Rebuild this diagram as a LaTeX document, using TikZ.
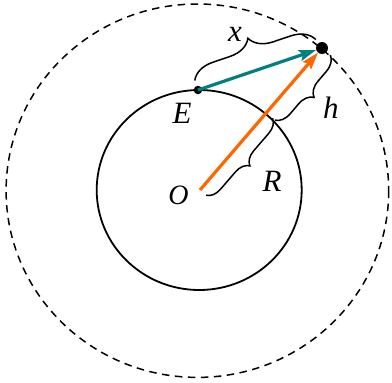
\documentclass[tikz,border=0pt]{standalone}
\usepackage{fontspec}
\setmainfont{Liberation Serif}
\usetikzlibrary{arrows.meta,decorations.pathreplacing,calc}
\definecolor{myteal}{RGB}{0,128,128}
\definecolor{myorange}{RGB}{255,102,0}
\tikzset{
  lbl/.style={inner sep=0pt,font=\fontsize{31}{33}\selectfont\itshape},
  dotnode/.style={circle,fill=black,inner sep=0pt,minimum size=#1},
  vecarrow/.style={line width=3.2pt,-{Stealth[length=17pt,width=11pt,inset=3pt]}},
  bracedeco/.style={decorate,line width=1.5pt,decoration={brace,amplitude=#1}},
}
\begin{document}
\begin{tikzpicture}[x=1pt,y=-1pt]
\useasboundingbox (0,0) rectangle (392,383);
% orbits
\draw[line width=1.5pt,dash pattern=on 7.5pt off 5.5pt] (197.4,190.7) ellipse [x radius=191.3,y radius=186.7];
\draw[line width=1.8pt] (199.2,190) ellipse [x radius=102.5,y radius=100];
% points
\coordinate (O) at (200,190);
\coordinate (P) at (266.5,113);
\node[dotnode=8.5pt] (E) at (198,90) {};
\node[dotnode=12pt] (S) at (322,48) {};
\coordinate (Sx) at ($(S.center)+(-3,1)$);
% vectors
\draw[vecarrow,myteal] (E.center) -- (S);
\draw[vecarrow,myorange] (O) -- (S);
% braces
\draw[bracedeco=23pt,decoration={raise=10pt}] (E.center) -- (Sx);
\draw[bracedeco=15pt,decoration={raise=11pt}] (S.center) -- (P);
\draw[bracedeco=14pt,decoration={raise=8pt}] (P) -- (O);
% labels
\node[lbl] (lE) at (182,113) {E};
\node[lbl,font=\fontsize{28}{30}\selectfont\itshape] (lO) at (178.5,195) {O};
\node[lbl] (lR) at (272,181) {R};
\node[lbl] (lh) at (331,108) {h};
\node[lbl] (lx) at (235,34) {x};
\end{tikzpicture}
\end{document}
